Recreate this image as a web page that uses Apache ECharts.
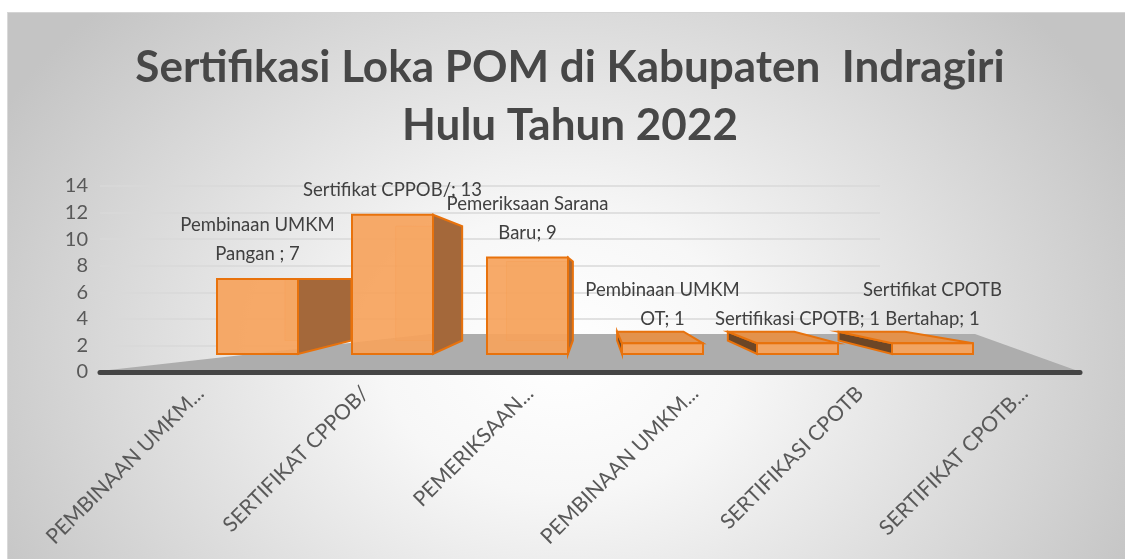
<!DOCTYPE html>
<html>
<head>
<meta charset="utf-8">
<title>Sertifikasi Loka POM</title>
<script src="https://cdn.jsdelivr.net/npm/echarts@6/dist/echarts.min.js"></script>
<style>
  html, body {
    margin: 0;
    padding: 0;
    background: #ffffff;
  }
  .panel {
    position: absolute;
    left: 7px;
    top: 12px;
    width: 1118px;
    height: 547px;
    border-top: 1px solid #d4d4d4;
    border-left: 1px solid #d9d9d9;
    background: radial-gradient(ellipse 640px 500px at 553px 340px, #ffffff 0%, #f7f7f7 28%, #c4c4c4 100%);
  }
  #chart {
    position: absolute;
    left: 0;
    top: 0;
    width: 1125px;
    height: 559px;
  }
</style>
</head>
<body>
<div class="panel"></div>
<div id="chart"></div>
<script>
// data
const categories = [
  'Pembinaan UMKM Pangan ',
  'Sertifikat CPPOB/',
  'Pemeriksaan Sarana Baru',
  'Pembinaan UMKM OT',
  'Sertifikasi CPOTB',
  'Sertifikat CPOTB Bertahap'
]
const values = [7, 13, 9, 1, 1, 1]
// data label names as wrapped in the chart
const labelNames = [
  'Pembinaan UMKM\nPangan ',
  'Sertifikat CPPOB/',
  'Pemeriksaan Sarana\nBaru',
  'Pembinaan UMKM\nOT',
  'Sertifikasi CPOTB',
  'Sertifikat CPOTB\nBertahap'
]
// truncated axis labels
const tickLabels = [
  'PEMBINAAN UMKM...',
  'SERTIFIKAT CPPOB/',
  'PEMERIKSAAN...',
  'PEMBINAAN UMKM...',
  'SERTIFIKASI CPOTB',
  'SERTIFIKAT CPOTB...'
]
const yTicks = [0, 2, 4, 6, 8, 10, 12, 14]

const chart = echarts.init(document.getElementById('chart'))

const FONT = 'Lato, "Open Sans", sans-serif'

// pseudo 3D bar: front face, one side, top and a faint back outline
const renderBar = (params, api) => {
  const i = api.value(0)
  const v = api.value(1)
  const top = api.coord([i, v])
  const base = api.coord([i, 0])
  const w = api.size([1, 0])[0] * 0.6
  const cs = params.coordSys
  const vp = [cs.x + cs.width * 0.5, cs.y + cs.height * 0.5]
  const k = 0.18
  const back = p => [p[0] + (vp[0] - p[0]) * k, p[1] + (vp[1] - p[1]) * k]

  const x0 = top[0] - w / 2
  const x1 = top[0] + w / 2
  const y0 = top[1]
  const y1 = base[1]
  const flt = [x0, y0], frt = [x1, y0], frb = [x1, y1], flb = [x0, y1]

  const children = []
  children.push({
    type: 'polygon',
    shape: { points: [back(flt), back(frt), back(frb), back(flb)] },
    style: { fill: 'rgba(240,150,70,0.25)', stroke: 'rgba(233,117,18,0.45)', lineWidth: 1 }
  })
  if (x1 < vp[0]) {
    children.push({
      type: 'polygon',
      shape: { points: [frt, back(frt), back(frb), frb] },
      style: { fill: '#a4683a', stroke: '#e8720c', lineWidth: 2 }
    })
  } else if (x0 > vp[0]) {
    children.push({
      type: 'polygon',
      shape: { points: [flt, back(flt), back(flb), flb] },
      style: { fill: '#6c4626', stroke: '#e8720c', lineWidth: 2 }
    })
  }
  if (y0 > vp[1] + 1) {
    children.push({
      type: 'polygon',
      shape: { points: [flt, frt, back(frt), back(flt)] },
      style: { fill: '#e3924c', stroke: '#e8720c', lineWidth: 2 }
    })
  }
  children.push({
    type: 'rect',
    shape: { x: x0, y: y0, width: w, height: y1 - y0 },
    style: { fill: 'rgba(246,163,92,0.92)', stroke: '#e8720c', lineWidth: 2 }
  })
  children.push({
    type: 'text',
    x: top[0],
    y: y0 - 10,
    z2: 100,
    style: {
      text: labelNames[i] + '; ' + v,
      align: 'center',
      verticalAlign: 'bottom',
      fontFamily: FONT,
      fontSize: 18.5,
      lineHeight: 29,
      fill: '#404040'
    }
  })
  return { type: 'group', children }
}

const option = {
  animation: false,
  backgroundColor: 'transparent',
  title: {
    text: 'Sertifikasi Loka POM di Kabupaten  Indragiri\nHulu Tahun 2022',
    left: 570,
    textAlign: 'center',
    top: 39,
    padding: 0,
    textStyle: {
      fontFamily: FONT,
      fontSize: 44,
      fontWeight: 'bold',
      color: '#474747',
      lineHeight: 58
    }
  },
  graphic: {
    elements: [
      {
        type: 'polygon',
        z: 1,
        shape: { points: [[100, 371], [430, 334], [975, 334], [1078, 371]] },
        style: { fill: '#adadad' }
      }
    ]
  },
  grid: [
    // back wall with value ticks
    { left: 100, right: 245, top: 186, bottom: 187 },
    // bars
    { left: 190, right: 125, top: 204, bottom: 205 },
    // category labels
    { left: 118, right: 18, top: 186, bottom: 187 },
    // front edge of the floor
    { left: 100, right: 45, top: 186, bottom: 187 }
  ],
  xAxis: [
    { gridIndex: 0, type: 'category', data: categories, show: false },
    { gridIndex: 1, type: 'category', data: categories, show: false },
    {
      gridIndex: 2,
      type: 'category',
      data: tickLabels,
      axisLine: { show: false },
      axisTick: { show: false },
      axisLabel: {
        interval: 0,
        rotate: 45,
        margin: 18,
        fontFamily: FONT,
        fontSize: 21,
        color: '#595959'
      }
    },
    {
      gridIndex: 3,
      type: 'category',
      data: categories,
      z: 3,
      axisLine: { lineStyle: { color: '#454545', width: 5 } },
      axisTick: { show: false },
      axisLabel: { show: false }
    }
  ],
  yAxis: [
    {
      gridIndex: 0,
      type: 'value',
      min: yTicks[0],
      max: yTicks[yTicks.length - 1],
      interval: 2,
      axisLine: { show: false },
      axisTick: { show: false },
      axisLabel: {
        margin: 12,
        fontFamily: FONT,
        fontSize: 20,
        color: '#595959'
      },
      splitLine: { lineStyle: { color: '#d9d9d9', width: 1.5 } }
    },
    { gridIndex: 1, type: 'value', min: 0, max: 14, show: false },
    { gridIndex: 2, type: 'value', min: 0, max: 14, show: false },
    { gridIndex: 3, type: 'value', min: 0, max: 14, show: false }
  ],
  series: [
    {
      type: 'custom',
      xAxisIndex: 1,
      yAxisIndex: 1,
      renderItem: renderBar,
      data: values.map((v, i) => [i, v])
    }
  ]
}

chart.setOption(option)
</script>
</body>
</html>
